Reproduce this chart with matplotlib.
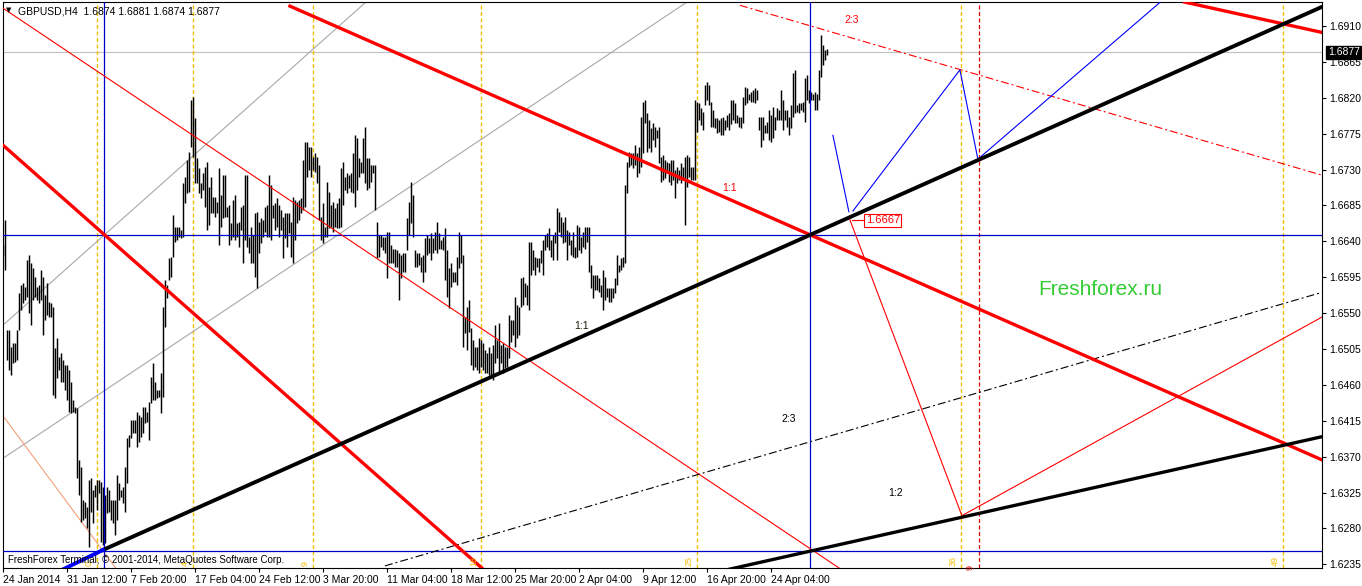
import numpy as np
import matplotlib
matplotlib.use("Agg")
import matplotlib.pyplot as plt
from matplotlib.transforms import blended_transform_factory

plt.rcParams['font.family'] = ['Liberation Sans', 'DejaVu Sans']
plt.rcParams['lines.scale_dashes'] = False

# ---------------- data ----------------
bar_high = [
 1.6635, 1.6667, 1.6529, 1.6529, 1.6508, 1.6512, 1.6512, 1.6529, 1.6575, 1.6585,
 1.6588, 1.6583, 1.6617, 1.6623, 1.6613, 1.6607, 1.6595, 1.6583, 1.6585, 1.6604,
 1.6595, 1.6573, 1.6588, 1.6564, 1.6563, 1.6558, 1.6506, 1.6519, 1.6495, 1.6500,
 1.6491, 1.6485, 1.6485, 1.6479, 1.6464, 1.6441, 1.6432, 1.6431, 1.6366, 1.6357,
 1.6316, 1.6313, 1.6307, 1.6341, 1.6343, 1.6328, 1.6334, 1.6341, 1.6341, 1.6338,
 1.6332, 1.6322, 1.6332, 1.6328, 1.6316, 1.6316, 1.6316, 1.6347, 1.6337, 1.6328,
 1.6332, 1.6357, 1.6393, 1.6397, 1.6416, 1.6416, 1.6416, 1.6426, 1.6422, 1.6420,
 1.6432, 1.6432, 1.6426, 1.6438, 1.6470, 1.6487, 1.6464, 1.6454, 1.6454, 1.6475,
 1.6558, 1.6591, 1.6585, 1.6619, 1.6620, 1.6673, 1.6658, 1.6658, 1.6658, 1.6654,
 1.6713, 1.6721, 1.6742, 1.6752, 1.6817, 1.6821, 1.6795, 1.6745, 1.6732, 1.6713,
 1.6726, 1.6733, 1.6739, 1.6708, 1.6721, 1.6696, 1.6696, 1.6689, 1.6732, 1.6698,
 1.6723, 1.6723, 1.6683, 1.6686, 1.6663, 1.6692, 1.6698, 1.6663, 1.6664, 1.6683,
 1.6686, 1.6723, 1.6723, 1.6645, 1.6658, 1.6648, 1.6676, 1.6677, 1.6664, 1.6669,
 1.6667, 1.6683, 1.6686, 1.6723, 1.6711, 1.6686, 1.6688, 1.6694, 1.6686, 1.6679,
 1.6671, 1.6676, 1.6676, 1.6676, 1.6664, 1.6696, 1.6692, 1.6689, 1.6692, 1.6694,
 1.6742, 1.6765, 1.6765, 1.6758, 1.6758, 1.6746, 1.6751, 1.6746, 1.6736, 1.6671,
 1.6688, 1.6658, 1.6714, 1.6702, 1.6686, 1.6689, 1.6682, 1.6688, 1.6694, 1.6732,
 1.6739, 1.6721, 1.6726, 1.6723, 1.6726, 1.6751, 1.6773, 1.6770, 1.6745, 1.6739,
 1.6770, 1.6783, 1.6745, 1.6745, 1.6736, 1.6736, 1.6736, 1.6664, 1.6648, 1.6648,
 1.6645, 1.6645, 1.6652, 1.6652, 1.6635, 1.6631, 1.6631, 1.6629, 1.6625, 1.6623,
 1.6625, 1.6625, 1.6669, 1.6689, 1.6714, 1.6698, 1.6629, 1.6625, 1.6626, 1.6620,
 1.6623, 1.6644, 1.6648, 1.6644, 1.6650, 1.6644, 1.6652, 1.6664, 1.6650, 1.6642,
 1.6645, 1.6657, 1.6629, 1.6606, 1.6613, 1.6601, 1.6601, 1.6620, 1.6652, 1.6648,
 1.6623, 1.6545, 1.6558, 1.6566, 1.6531, 1.6516, 1.6508, 1.6508, 1.6519, 1.6516,
 1.6512, 1.6504, 1.6500, 1.6508, 1.6500, 1.6510, 1.6535, 1.6516, 1.6537, 1.6510,
 1.6512, 1.6508, 1.6508, 1.6548, 1.6541, 1.6541, 1.6570, 1.6560, 1.6558, 1.6594,
 1.6595, 1.6588, 1.6585, 1.6639, 1.6639, 1.6629, 1.6620, 1.6619, 1.6619, 1.6629,
 1.6642, 1.6648, 1.6650, 1.6657, 1.6642, 1.6648, 1.6652, 1.6682, 1.6677, 1.6671,
 1.6664, 1.6671, 1.6654, 1.6652, 1.6642, 1.6652, 1.6633, 1.6660, 1.6658, 1.6645,
 1.6652, 1.6658, 1.6658, 1.6658, 1.6610, 1.6598, 1.6598, 1.6598, 1.6594, 1.6585,
 1.6604, 1.6595, 1.6581, 1.6581, 1.6581, 1.6581, 1.6594, 1.6623, 1.6610, 1.6619,
 1.6620, 1.6711, 1.6739, 1.6752, 1.6751, 1.6751, 1.6761, 1.6751, 1.6758, 1.6796,
 1.6815, 1.6817, 1.6801, 1.6792, 1.6782, 1.6788, 1.6783, 1.6780, 1.6783, 1.6746,
 1.6748, 1.6742, 1.6739, 1.6738, 1.6742, 1.6742, 1.6729, 1.6733, 1.6729, 1.6738,
 1.6733, 1.6746, 1.6748, 1.6746, 1.6733, 1.6733, 1.6817, 1.6815, 1.6813, 1.6807,
 1.6802, 1.6836, 1.6840, 1.6836, 1.6815, 1.6805, 1.6795, 1.6795, 1.6792, 1.6795,
 1.6796, 1.6792, 1.6798, 1.6801, 1.6817, 1.6817, 1.6813, 1.6798, 1.6796, 1.6796,
 1.6821, 1.6833, 1.6832, 1.6825, 1.6827, 1.6830, 1.6832, 1.6830, 1.6796, 1.6796,
 1.6796, 1.6786, 1.6790, 1.6805, 1.6798, 1.6808, 1.6796, 1.6807, 1.6805, 1.6830,
 1.6817, 1.6805, 1.6805, 1.6796, 1.6811, 1.6851, 1.6855, 1.6811, 1.6813, 1.6813,
 1.6815, 1.6845, 1.6849, 1.6830, 1.6827, 1.6825, 1.6827, 1.6825, 1.6855, 1.6899,
 1.6886, 1.6880, 1.6881]

bar_low = [
 1.6623, 1.6604, 1.6491, 1.6479, 1.6472, 1.6487, 1.6489, 1.6491, 1.6529, 1.6554,
 1.6563, 1.6566, 1.6570, 1.6550, 1.6535, 1.6566, 1.6570, 1.6566, 1.6563, 1.6566,
 1.6523, 1.6541, 1.6548, 1.6545, 1.6545, 1.6447, 1.6444, 1.6469, 1.6479, 1.6464,
 1.6464, 1.6454, 1.6441, 1.6426, 1.6425, 1.6426, 1.6425, 1.6343, 1.6322, 1.6288,
 1.6291, 1.6293, 1.6281, 1.6257, 1.6301, 1.6287, 1.6319, 1.6303, 1.6324, 1.6263,
 1.6259, 1.6262, 1.6299, 1.6301, 1.6291, 1.6287, 1.6272, 1.6291, 1.6316, 1.6319,
 1.6312, 1.6301, 1.6337, 1.6382, 1.6393, 1.6400, 1.6400, 1.6382, 1.6388, 1.6395,
 1.6400, 1.6412, 1.6413, 1.6391, 1.6437, 1.6441, 1.6441, 1.6444, 1.6445, 1.6425,
 1.6445, 1.6533, 1.6569, 1.6591, 1.6595, 1.6620, 1.6639, 1.6642, 1.6645, 1.6644,
 1.6645, 1.6688, 1.6701, 1.6702, 1.6758, 1.6746, 1.6713, 1.6713, 1.6701, 1.6694,
 1.6704, 1.6683, 1.6654, 1.6660, 1.6676, 1.6676, 1.6671, 1.6676, 1.6635, 1.6658,
 1.6669, 1.6671, 1.6671, 1.6635, 1.6642, 1.6645, 1.6642, 1.6645, 1.6633, 1.6654,
 1.6613, 1.6642, 1.6633, 1.6625, 1.6613, 1.6613, 1.6595, 1.6581, 1.6625, 1.6638,
 1.6645, 1.6652, 1.6645, 1.6645, 1.6642, 1.6669, 1.6654, 1.6658, 1.6645, 1.6654,
 1.6619, 1.6644, 1.6633, 1.6650, 1.6620, 1.6613, 1.6642, 1.6663, 1.6667, 1.6676,
 1.6679, 1.6683, 1.6721, 1.6729, 1.6721, 1.6729, 1.6727, 1.6713, 1.6667, 1.6642,
 1.6638, 1.6645, 1.6645, 1.6657, 1.6658, 1.6652, 1.6658, 1.6657, 1.6657, 1.6658,
 1.6686, 1.6704, 1.6701, 1.6707, 1.6702, 1.6701, 1.6683, 1.6704, 1.6721, 1.6726,
 1.6726, 1.6713, 1.6704, 1.6707, 1.6714, 1.6726, 1.6679, 1.6619, 1.6620, 1.6633,
 1.6629, 1.6626, 1.6594, 1.6613, 1.6613, 1.6613, 1.6608, 1.6608, 1.6566, 1.6594,
 1.6601, 1.6601, 1.6629, 1.6648, 1.6663, 1.6645, 1.6608, 1.6608, 1.6610, 1.6601,
 1.6589, 1.6601, 1.6623, 1.6626, 1.6617, 1.6625, 1.6629, 1.6626, 1.6631, 1.6631,
 1.6629, 1.6591, 1.6570, 1.6556, 1.6583, 1.6589, 1.6589, 1.6585, 1.6607, 1.6613,
 1.6508, 1.6525, 1.6504, 1.6526, 1.6485, 1.6479, 1.6482, 1.6479, 1.6475, 1.6482,
 1.6479, 1.6475, 1.6475, 1.6472, 1.6470, 1.6466, 1.6487, 1.6494, 1.6475, 1.6487,
 1.6475, 1.6481, 1.6482, 1.6494, 1.6514, 1.6523, 1.6508, 1.6519, 1.6523, 1.6558,
 1.6560, 1.6570, 1.6560, 1.6554, 1.6598, 1.6604, 1.6598, 1.6608, 1.6601, 1.6613,
 1.6598, 1.6629, 1.6633, 1.6629, 1.6620, 1.6617, 1.6638, 1.6617, 1.6652, 1.6645,
 1.6638, 1.6639, 1.6617, 1.6635, 1.6623, 1.6620, 1.6619, 1.6620, 1.6629, 1.6625,
 1.6633, 1.6631, 1.6639, 1.6601, 1.6581, 1.6569, 1.6579, 1.6579, 1.6576, 1.6570,
 1.6554, 1.6566, 1.6570, 1.6564, 1.6564, 1.6569, 1.6575, 1.6585, 1.6601, 1.6604,
 1.6608, 1.6613, 1.6701, 1.6733, 1.6736, 1.6732, 1.6736, 1.6721, 1.6726, 1.6733,
 1.6751, 1.6789, 1.6752, 1.6757, 1.6752, 1.6767, 1.6758, 1.6770, 1.6738, 1.6714,
 1.6717, 1.6719, 1.6726, 1.6714, 1.6711, 1.6717, 1.6694, 1.6713, 1.6717, 1.6713,
 1.6717, 1.6660, 1.6708, 1.6721, 1.6717, 1.6717, 1.6717, 1.6777, 1.6792, 1.6786,
 1.6780, 1.6811, 1.6817, 1.6811, 1.6783, 1.6783, 1.6782, 1.6776, 1.6777, 1.6773,
 1.6773, 1.6780, 1.6783, 1.6780, 1.6787, 1.6792, 1.6789, 1.6788, 1.6783, 1.6782,
 1.6788, 1.6811, 1.6813, 1.6817, 1.6815, 1.6815, 1.6813, 1.6817, 1.6780, 1.6758,
 1.6767, 1.6776, 1.6776, 1.6767, 1.6764, 1.6770, 1.6780, 1.6792, 1.6792, 1.6792,
 1.6780, 1.6792, 1.6783, 1.6773, 1.6782, 1.6796, 1.6801, 1.6802, 1.6801, 1.6805,
 1.6802, 1.6790, 1.6817, 1.6813, 1.6817, 1.6817, 1.6805, 1.6805, 1.6817, 1.6846,
 1.6861, 1.6867, 1.6874]

time_label_bars = [0, 32, 64, 96, 128, 160, 192, 224, 256, 288, 320, 352, 384]
time_labels = ["24 Jan 2014", "31 Jan 12:00", "7 Feb 20:00", "17 Feb 04:00",
               "24 Feb 12:00", "3 Mar 20:00", "11 Mar 04:00", "18 Mar 12:00",
               "25 Mar 20:00", "2 Apr 04:00", "9 Apr 12:00", "16 Apr 20:00",
               "24 Apr 04:00"]
price_ticks = [1.6910, 1.6865, 1.6820, 1.6775, 1.6730, 1.6685, 1.6640, 1.6595,
               1.6550, 1.6505, 1.6460, 1.6415, 1.6370, 1.6325, 1.6280, 1.6235]
bid_price = 1.6877
title_text = "GBPUSD,H4  1.6874 1.6881 1.6874 1.6877"

# chart objects (bar index, price)
thick_red_1 = ([143.6, 659.6], [1.6935, 1.6366])
thick_red_2 = ([-1.4, 245.6], [1.6764, 1.6217])
thick_red_3 = ([591.0, 659.6], [1.6940, 1.6902])
thin_red_1 = ([-1.4, 419.6], [1.6935, 1.6228])
red_zigzag = ([423.6, 479.6, 659.6], [1.6667, 1.6296, 1.6545])
red_dashdot = ([368.6, 659.6], [1.6936, 1.6723])
blue_zig_1 = ([415.1, 423.1], [1.6773, 1.6677])
blue_zig_2 = ([425.1, 478.6, 487.6, 581.1], [1.6678, 1.6855, 1.6743, 1.6945])
thick_black_1 = ([50.1, 659.6], [1.6253, 1.6934])
blue_thick = ([29.6, 50.1], [1.6228, 1.6253])
black_dashdot = ([191.1, 659.6], [1.6233, 1.6576])
thick_black_2 = ([363.6, 659.6], [1.6229, 1.6395])
grey_a = ([0.2, 342.1], [1.6368, 1.6940])
grey_b = ([0.2, 181.6], [1.6535, 1.6940])
salmon_line = ([0.2, 56.6], [1.6421, 1.6230])
blue_hlines = [1.6648, 1.6252]
blue_vlines = [50.65, 403.65]
fibo_bars = [47.15, 95.15, 155.15, 239.15, 347.15, 479.15, 640.15]
fibo_labels = ["0", "4", "9", "16", "25", "36", "49"]
red_vline_bar = 488.15
level_label = "1.6667"

# ---------------- figure ----------------
W, H = 1362, 586
fig = plt.figure(figsize=(W / 100, H / 100), dpi=100)
fig.patch.set_facecolor('white')
L, R, T, B = 2.7, 1322.0, 1.7, 568.3
ax = fig.add_axes([L / W, 1 - B / H, (R - L) / W, (B - T) / H])
ax.set_facecolor('white')
ax.set_xlim(0, (R - L) / 2)
ax.set_ylim(1.62300, 1.69405)
PX = 0.72  # points per pixel
YEL = '#f5c000'

# bars
xb = np.arange(len(bar_high))
ax.vlines(xb, bar_low, bar_high, color='black', lw=1.05, zorder=2)

# horizontal / vertical reference lines
ax.axhline(bid_price, color='#c0c0c0', lw=0.8, zorder=1)
for p in blue_hlines:
    ax.axhline(p, color='#0000cc', lw=0.9, zorder=3)
for xv in blue_vlines:
    ax.axvline(xv, color='#0000cc', lw=0.9, zorder=3)
for xv in fibo_bars:
    ax.axvline(xv, color=YEL, lw=1.0, ls=(0, (4 * PX, 2.5 * PX)), zorder=1)
ax.axvline(red_vline_bar, color='#e00000', lw=0.9, ls=(0, (4 * PX, 2.5 * PX)), zorder=1)

# trend objects
ax.plot(*grey_a, color='#a8a8a8', lw=0.8, zorder=1)
ax.plot(*grey_b, color='#a8a8a8', lw=0.8, zorder=1)
ax.plot(*salmon_line, color='#f4a07a', lw=0.8, zorder=1)
ax.plot(*thin_red_1, color='#ff0000', lw=0.8, zorder=3)
ax.plot(*red_zigzag, color='#ff0000', lw=0.8, zorder=3)
ax.plot(*red_dashdot, color='#ff0000', lw=0.8,
        ls=(0, (8 * PX, 3 * PX, 2 * PX, 3 * PX)), zorder=3)
ax.plot(*black_dashdot, color='black', lw=0.8,
        ls=(0, (8 * PX, 3 * PX, 2 * PX, 3 * PX)), zorder=3)
ax.plot(*blue_zig_1, color='#0000ff', lw=0.8, zorder=3)
ax.plot(*blue_zig_2, color='#0000ff', lw=0.8, zorder=3)
ax.plot(*thick_red_1, color='#ff0000', lw=2.4, zorder=4)
ax.plot(*thick_red_2, color='#ff0000', lw=2.4, zorder=4)
ax.plot(*thick_red_3, color='#ff0000', lw=2.4, zorder=4)
ax.plot(*thick_black_1, color='black', lw=2.8, zorder=4)
ax.plot(*thick_black_2, color='black', lw=2.4, zorder=4)
ax.plot(*blue_thick, color='#0000ff', lw=2.8, zorder=4)

# ratio labels
ax.text(424.6, 1.69175, "2:3", color='#ff0000', fontsize=7.5, ha='center', va='center', zorder=5)
ax.text(363.5, 1.67069, "1:1", color='#ff0000', fontsize=7.5, ha='center', va='center', zorder=5)
ax.text(289.5, 1.65338, "1:1", color='#1a1a00', fontsize=7.5, ha='center', va='center', zorder=5)
ax.text(393.0, 1.64172, "2:3", color='black', fontsize=7.5, ha='center', va='center', zorder=5)
ax.text(446.5, 1.63244, "1:2", color='black', fontsize=7.5, ha='center', va='center', zorder=5)
ax.text(548.6, 1.6579, "Freshforex.ru", color='#33cc33', fontsize=15, ha='center',
        va='center', zorder=5)

# price level label
ax.plot([424.6, 430.6], [1.6667, 1.6667], color='#ff0000', lw=0.8, zorder=5)
ax.text(431.5, 1.66665, level_label, color='#ff0000', fontsize=8, ha='left', va='center',
        zorder=6, bbox=dict(boxstyle='square,pad=0.12', fc='white', ec='#ff0000', lw=0.8))

# fibo labels
bottom_p = 1.6233
for xv, lab in zip(fibo_bars, fibo_labels):
    ax.text(xv - 3.8, bottom_p, lab, color=YEL, fontsize=6.5, rotation=90,
            ha='center', va='bottom', zorder=5)
ax.text(red_vline_bar - 4.5, 1.6228, "9", color='#e00000', fontsize=6.5, rotation=90,
        ha='center', va='bottom', zorder=5)

# axes styling
for s in ax.spines.values():
    s.set_color('black')
    s.set_linewidth(0.8)
ax.yaxis.tick_right()
ax.set_yticks(price_ticks)
ax.set_yticklabels([f"{p:.4f}" for p in price_ticks])
ax.tick_params(axis='y', direction='out', length=3, width=0.8, pad=2.5, labelsize=7.5,
               colors='black')
ax.set_xticks(time_label_bars)
ax.set_xticklabels(time_labels)
for lbl in ax.get_xticklabels():
    lbl.set_horizontalalignment('left')
ax.tick_params(axis='x', direction='out', length=3, width=0.8, pad=1.5, labelsize=7.5,
               colors='black')

# bid label box
tr = blended_transform_factory(ax.transAxes, ax.transData)
ax.text(1.0045, bid_price, f"{bid_price:.4f}", transform=tr, color='white', fontsize=7.5,
        ha='left', va='center', zorder=10, clip_on=False,
        bbox=dict(boxstyle='square,pad=0.15', fc='black', ec='black'))

# header / footer texts
fig.text(6 / W, 1 - 10 / H, "\u25BC", fontsize=5, color='black', ha='left', va='center',
         family=['DejaVu Sans'])
fig.text(18 / W, 1 - 11 / H, title_text, fontsize=7.5, color='black', ha='left', va='center')
fig.text(8 / W, 1 - 560 / H, "FreshForex Terminal, \u00A9 2001-2014, MetaQuotes Software Corp.",
         fontsize=7, color='black', ha='left', va='center', zorder=10)

fig.savefig("out.png", dpi=100, facecolor='white')
